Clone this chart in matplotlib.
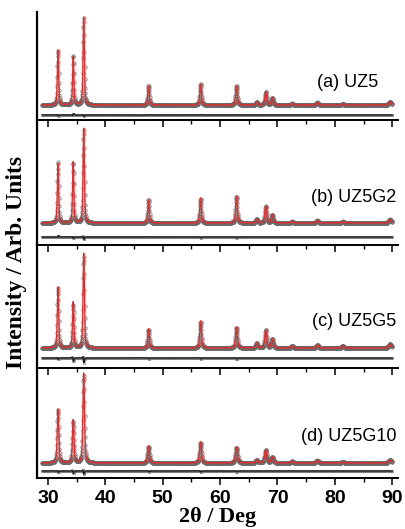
import numpy as np
import matplotlib.pyplot as plt

# ZnO reflections (2theta, deg) and peak widths (FWHM, deg)
peak_pos = [31.77, 34.42, 36.25, 47.54, 56.60, 62.86, 66.38, 67.96, 69.10, 72.56, 76.95, 81.37, 89.60]
peak_fwhm = [0.26, 0.26, 0.27, 0.30, 0.32, 0.34, 0.34, 0.36, 0.36, 0.40, 0.42, 0.45, 0.50]

# peak heights (arb. units)
h_uz5 = [55, 48, 88, 19, 21, 19, 3, 13, 7, 1.5, 2.5, 1.0, 3.0]
h_uz5g2 = [60, 61, 95, 23, 25, 27, 4, 17, 8, 1.5, 2.5, 1.5, 3.5]
h_uz5g5 = [61, 46, 95, 19, 27, 21, 5, 18, 9, 2.0, 3.0, 2.0, 4.0]
h_uz5g10 = [54, 43, 90, 17, 21, 16, 3, 13, 6, 1.5, 2.5, 1.0, 3.0]

# residual (obs - calc) at the first reflections
d_uz5 = [-1.0, 1.5, -1.5, 0.5, 0.5, 0.3]
d_uz5g2 = [1.5, -1.5, -2.5, 0.5, -1.0, -0.8]
d_uz5g5 = [-1.5, -3.5, -5.0, -0.8, -1.0, -1.0]
d_uz5g10 = [-1.5, -2.5, -3.5, -0.8, -1.0, -0.8]

labels = ['(a) UZ5', '(b) UZ5G2', '(c) UZ5G5', '(d) UZ5G10']
heights = [h_uz5, h_uz5g2, h_uz5g5, h_uz5g10]
diffs = [d_uz5, d_uz5g2, d_uz5g5, d_uz5g10]
width_scale = [1.0, 1.0, 1.05, 1.2]

tt = np.arange(29.0, 90.0, 0.02)


def pv(x, x0, fwhm, eta=0.5):
    g = np.exp(-4 * np.log(2) * ((x - x0) / fwhm) ** 2)
    l = 1 / (1 + 4 * ((x - x0) / fwhm) ** 2)
    return eta * l + (1 - eta) * g


def pattern(h, ws):
    y = np.zeros_like(tt)
    for p, w, a in zip(peak_pos, peak_fwhm, h):
        y += a * pv(tt, p, w * ws)
    return y


def residual(d, ws):
    y = np.zeros_like(tt)
    for p, w, a in zip(peak_pos, peak_fwhm, d):
        y += a * pv(tt, p + 0.04, w * ws * 0.7, 0.2)
        y -= 0.4 * a * pv(tt, p - 0.12, w * ws * 0.6, 0.2)
    return y


fig = plt.figure(figsize=(4.06, 5.29), dpi=100)
H = 529.0
W = 406.0
# panel extents in pixels (top, bottom), baseline and residual offsets
panels = [(12, 120), (120, 245), (245, 368), (368, 478)]
base = [15, 22, 20, 15]
doff = [5, 8, 10, 7]

left = 37.5 / W
width = 360.5 / W

for i in range(4):
    top, bot = panels[i]
    ax = fig.add_axes([left, 1 - bot / H, width, (bot - top) / H])
    calc = base[i] + pattern(heights[i], width_scale[i])
    obs = calc + residual(diffs[i], width_scale[i])
    diff = doff[i] + residual(diffs[i], width_scale[i])

    ax.plot(tt[::2], obs[::2], 'o', ms=2.4, mfc='none', mec='#6a6a6a', mew=0.5, zorder=2)
    ax.plot(tt, calc, color='#e82a2a', lw=1.0, zorder=3)
    ax.plot(tt[::4], diff[::4], 'o', ms=1.8, mfc='none', mec='#808080', mew=0.4, zorder=2)
    ax.plot(tt, diff, color='#1a1a1a', lw=0.9, zorder=3)

    ax.set_xlim(28.2, 91.0)
    ax.set_ylim(0, bot - top)
    ax.set_yticks([])
    ax.set_xticks(range(30, 91, 10))
    ax.set_xticks(range(35, 91, 10), minor=True)
    ax.tick_params(axis='x', which='major', direction='out', length=5, width=1.1)
    ax.tick_params(axis='x', which='minor', direction='out', length=3, width=1.0)
    ax.spines['top'].set_visible(False)
    ax.spines['right'].set_visible(False)
    ax.spines['left'].set_linewidth(1.6)
    ax.spines['bottom'].set_linewidth(1.4)
    ax.patch.set_alpha(0)
    if i < 3:
        ax.set_xticklabels([])
    else:
        for lab in ax.get_xticklabels():
            lab.set_fontfamily('Liberation Sans')
            lab.set_fontweight('bold')
            lab.set_fontsize(14)
        ax.set_xlabel('2θ / Deg', fontfamily='Liberation Serif', fontweight='bold',
                      fontsize=16, labelpad=0)
    lx = 0.945 if i == 0 else 0.995
    ax.text(lx, 0.35 if i == 0 else 0.38, labels[i], transform=ax.transAxes, ha='right',
            va='center', fontfamily='Liberation Sans', fontsize=13)

fig.text(17 / W, 1 - 262 / H, 'Intensity / Arb. Units', rotation=90, ha='center', va='center',
         fontfamily='Liberation Serif', fontweight='bold', fontsize=17)

fig.savefig('out.png', dpi=100)
